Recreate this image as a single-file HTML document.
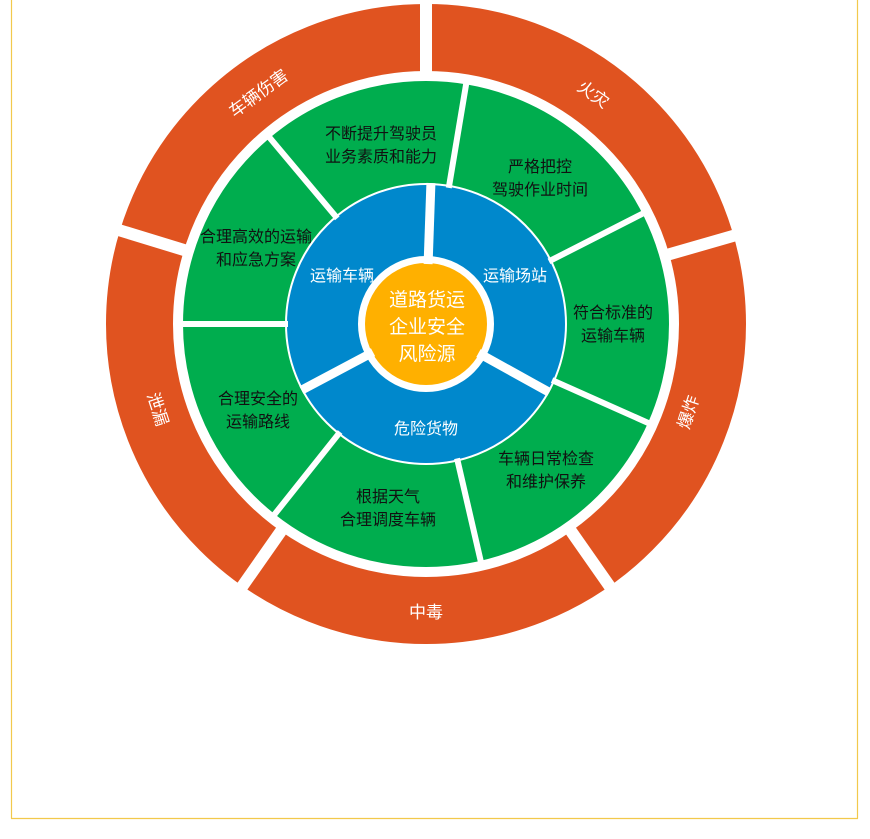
<!DOCTYPE html>
<html><head><meta charset="utf-8"><style>
html,body{margin:0;padding:0;background:#fff;width:870px;height:839px;overflow:hidden}
svg{display:block}
text{font-family:"Liberation Sans","Noto Sans CJK SC",sans-serif}
</style></head><body>
<svg width="870" height="839" viewBox="0 0 870 839">
<line x1="11.5" y1="0" x2="11.5" y2="818.5" stroke="#f2c94c" stroke-width="1.2"/>
<line x1="857.5" y1="0" x2="857.5" y2="818.5" stroke="#f2c94c" stroke-width="1.2"/>
<line x1="11" y1="818.5" x2="858" y2="818.5" stroke="#f2c94c" stroke-width="1.2"/>
<g transform="translate(426,324)">
<circle r="286.5" fill="none" stroke="#e05320" stroke-width="67"/>
<circle r="191.5" fill="none" stroke="#00ad4e" stroke-width="103"/>
<circle r="104" fill="none" stroke="#0088cc" stroke-width="72"/>
<circle r="140" fill="none" stroke="#fff" stroke-width="2"/>
<circle r="61" fill="#ffb000"/>
<g stroke="#fff" stroke-width="12">
<line x1="0" y1="-245" x2="0" y2="-330" transform="rotate(0)"/>
<line x1="0" y1="-245" x2="0" y2="-330" transform="rotate(74)"/>
<line x1="0" y1="-245" x2="0" y2="-330" transform="rotate(145)"/>
<line x1="0" y1="-245" x2="0" y2="-330" transform="rotate(215)"/>
<line x1="0" y1="-245" x2="0" y2="-330" transform="rotate(287)"/>
</g>
<g stroke="#fff" stroke-width="6">
<line x1="0" y1="-138" x2="0" y2="-247" transform="rotate(9.5)"/>
<line x1="0" y1="-138" x2="0" y2="-247" transform="rotate(63)"/>
<line x1="0" y1="-138" x2="0" y2="-247" transform="rotate(114)"/>
<line x1="0" y1="-138" x2="0" y2="-247" transform="rotate(167)"/>
<line x1="0" y1="-138" x2="0" y2="-247" transform="rotate(218.5)"/>
<line x1="0" y1="-138" x2="0" y2="-247" transform="rotate(270)"/>
<line x1="0" y1="-138" x2="0" y2="-247" transform="rotate(320)"/>
</g>
<g stroke="#fff" stroke-width="9">
<line x1="0" y1="-60" x2="0" y2="-141" transform="rotate(2)"/>
<line x1="0" y1="-60" x2="0" y2="-141" transform="rotate(119)"/>
<line x1="0" y1="-60" x2="0" y2="-141" transform="rotate(242)"/>
</g>
</g>
<g fill="#fff" font-size="17" text-anchor="middle">
<text transform="translate(262,98) rotate(-36)">车辆伤害</text>
<text transform="translate(590,99) rotate(35)">火灾</text>
<text transform="translate(694,414) rotate(-72)">爆炸</text>
<text transform="translate(152,411) rotate(72)">泄漏</text>
<text x="426" y="618">中毒</text>
</g>
<g fill="#111" font-size="16" text-anchor="middle">
<text x="381" y="139">不断提升驾驶员</text><text x="381" y="162">业务素质和能力</text>
<text x="540" y="172">严格把控</text><text x="540" y="195">驾驶作业时间</text>
<text x="613" y="318">符合标准的</text><text x="613" y="341">运输车辆</text>
<text x="546" y="464">车辆日常检查</text><text x="546" y="487">和维护保养</text>
<text x="388" y="502">根据天气</text><text x="388" y="525">合理调度车辆</text>
<text x="258" y="404">合理安全的</text><text x="258" y="427">运输路线</text>
<text x="256" y="242">合理高效的运输</text><text x="256" y="265">和应急方案</text>
</g>
<g fill="#fff" font-size="16" text-anchor="middle">
<text x="342" y="281">运输车辆</text>
<text x="515" y="281">运输场站</text>
<text x="426" y="434">危险货物</text>
</g>
<g fill="#fff" font-size="19" text-anchor="middle">
<text x="427" y="306">道路货运</text>
<text x="427" y="333">企业安全</text>
<text x="427" y="360">风险源</text>
</g>
</svg>
</body></html>
